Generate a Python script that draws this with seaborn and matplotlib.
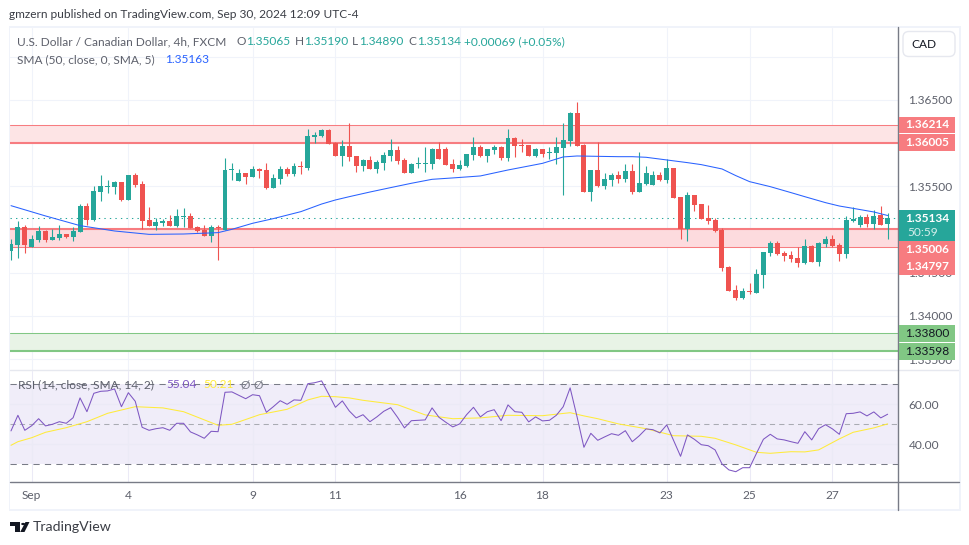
import numpy as np
import matplotlib.pyplot as plt
from matplotlib.lines import Line2D
from matplotlib.patches import Rectangle, FancyBboxPatch, Polygon, Circle
import seaborn as sns

#candles, 4h bars from the start of september
opens = [1.34753,1.34822,1.35030,1.34799,1.34880,1.34984,1.34880,1.34903,1.34949,1.34915,
         1.34973,1.35273,1.35111,1.35435,1.35493,1.35493,1.35551,1.35343,1.35632,1.35528,
         1.35111,1.35042,1.35077,1.35100,1.35042,1.35146,1.35158,1.35030,1.34996,1.34926,
         1.35030,1.34996,1.35690,1.35563,1.35655,1.35609,1.35702,1.35690,1.35482,1.35586,
         1.35702,1.35644,1.35736,1.35713,1.36072,1.36084,1.36153,1.36003,1.35852,1.35968,
         1.35852,1.35736,1.35806,1.35702,1.35771,1.35852,1.35922,1.35806,1.35655,1.35760,
         1.35760,1.35760,1.35933,1.35933,1.35760,1.35702,1.35736,1.35864,1.35956,1.35852,
         1.35922,1.35956,1.35829,1.36060,1.35979,1.35979,1.35852,1.35933,1.35887,1.35887,
         1.35945,1.36026,1.36350,1.35979,1.35435,1.35690,1.35505,1.35574,1.35632,1.35586,
         1.35679,1.35435,1.35528,1.35516,1.35632,1.35574,1.35713,1.35378,1.35007,1.35401,
         1.35296,1.35134,1.35111,1.34996,1.34567,1.34301,1.34209,1.34290,1.34266,1.34475,
         1.34729,1.34845,1.34729,1.34706,1.34672,1.34614,1.34810,1.34625,1.34834,1.34891,
         1.34822,1.34718,1.35100,1.35054,1.35146,1.35065,1.35169,1.35065]
highs = [1.34891,1.35100,1.35054,1.34938,1.35042,1.34996,1.35007,1.35054,1.34949,1.35030,
         1.35296,1.35308,1.35505,1.35632,1.35574,1.35563,1.35551,1.35632,1.35655,1.35563,
         1.35262,1.35134,1.35123,1.35169,1.35239,1.35250,1.35192,1.35042,1.35054,1.35054,
         1.35054,1.35829,1.35771,1.35702,1.35655,1.35736,1.35713,1.35771,1.35644,1.35736,
         1.35725,1.35771,1.35794,1.36165,1.36130,1.36165,1.36165,1.36014,1.36037,1.36234,
         1.35852,1.35817,1.35852,1.35806,1.35898,1.36049,1.35968,1.35829,1.35771,1.35841,
         1.35956,1.35945,1.36014,1.35956,1.35817,1.35806,1.35875,1.36072,1.35979,1.35933,
         1.35979,1.35968,1.36165,1.36072,1.36049,1.35979,1.35945,1.35933,1.35956,1.36072,
         1.36234,1.36361,1.36477,1.35991,1.35690,1.36014,1.35655,1.35655,1.35679,1.35760,
         1.35760,1.35898,1.35736,1.35679,1.35667,1.35817,1.35713,1.35378,1.35435,1.35401,
         1.35296,1.35285,1.35134,1.35019,1.34579,1.34359,1.34324,1.34382,1.34544,1.34741,
         1.34868,1.34868,1.34753,1.34753,1.34799,1.34891,1.34822,1.34857,1.34926,1.34938,
         1.34845,1.35158,1.35262,1.35169,1.35181,1.35227,1.35273,1.35190]
lows = [1.34648,1.34675,1.34733,1.34799,1.34857,1.34857,1.34880,1.34880,1.34903,1.34868,
        1.34973,1.35054,1.35100,1.35331,1.35424,1.35412,1.35331,1.35343,1.35493,1.35007,
        1.35042,1.34996,1.35042,1.35042,1.35030,1.35030,1.35019,1.34973,1.34926,1.34857,
        1.34648,1.34996,1.35574,1.35563,1.35528,1.35609,1.35598,1.35470,1.35482,1.35528,
        1.35621,1.35621,1.35644,1.35690,1.36003,1.36072,1.35991,1.35852,1.35736,1.35794,
        1.35667,1.35679,1.35702,1.35655,1.35690,1.35794,1.35760,1.35655,1.35655,1.35713,
        1.35667,1.35702,1.35817,1.35748,1.35667,1.35690,1.35725,1.35806,1.35841,1.35783,
        1.35875,1.35806,1.35794,1.35841,1.35898,1.35852,1.35841,1.35841,1.35817,1.35760,
        1.35401,1.35968,1.35968,1.35435,1.35331,1.35493,1.35470,1.35505,1.35540,1.35551,
        1.35412,1.35435,1.35516,1.35516,1.35563,1.35540,1.35366,1.34891,1.34868,1.35216,
        1.35123,1.35065,1.34973,1.34521,1.34290,1.34185,1.34197,1.34255,1.34266,1.34324,
        1.34695,1.34706,1.34637,1.34625,1.34567,1.34602,1.34625,1.34579,1.34799,1.34799,
        1.34637,1.34672,1.35088,1.35030,1.35030,1.35007,1.35054,1.34890]
closes = [1.34834,1.35030,1.34822,1.34891,1.34984,1.34880,1.34915,1.34949,1.34915,1.34984,
          1.35273,1.35111,1.35447,1.35505,1.35505,1.35551,1.35343,1.35632,1.35516,1.35100,
          1.35042,1.35088,1.35100,1.35042,1.35158,1.35158,1.35019,1.34984,1.34926,1.35030,
          1.35019,1.35690,1.35702,1.35655,1.35609,1.35702,1.35679,1.35482,1.35598,1.35702,
          1.35644,1.35736,1.35725,1.36084,1.36095,1.36153,1.35991,1.35852,1.35968,1.35841,
          1.35736,1.35806,1.35702,1.35783,1.35864,1.35922,1.35794,1.35655,1.35760,1.35771,
          1.35771,1.35933,1.35817,1.35748,1.35702,1.35748,1.35875,1.35956,1.35852,1.35933,
          1.35956,1.35829,1.36060,1.35968,1.35968,1.35852,1.35933,1.35875,1.35898,1.35956,
          1.36037,1.36350,1.35968,1.35435,1.35690,1.35505,1.35586,1.35632,1.35586,1.35679,
          1.35435,1.35540,1.35655,1.35632,1.35574,1.35713,1.35366,1.35007,1.35401,1.35285,
          1.35123,1.35100,1.34984,1.34556,1.34290,1.34209,1.34290,1.34278,1.34486,1.34741,
          1.34845,1.34718,1.34695,1.34660,1.34614,1.34810,1.34625,1.34845,1.34891,1.34810,
          1.34718,1.35111,1.35123,1.35146,1.35065,1.35158,1.35054,1.35134]

#50 SMA, read every few bars
sma_idx = [0,5,10,15,20,25,30,32,35,38,42,45,47,49,52,55,58,61,64,68,72,75,77,80,82,85,88,90,92,95,98,
           100,103,105,107,110,113,115,118,120,122,125,127]
sma_vals = [1.35277,1.35158,1.35046,1.34984,1.34945,1.34949,1.34965,1.35003,1.35073,1.35127,1.35208,
            1.35296,1.35343,1.35381,1.35435,1.35486,1.35536,1.35582,1.35598,1.35621,1.35690,1.35736,
            1.35767,1.35841,1.35852,1.35848,1.35844,1.35844,1.35837,1.35806,1.35775,1.35752,1.35702,
            1.35625,1.35555,1.35497,1.35428,1.35381,1.35312,1.35273,1.35246,1.35204,1.35163]

rsi_vals = [46.7,54.5,47.0,49.3,52.8,49.2,50.0,51.3,50.5,53.3,63.2,56.3,65.5,66.5,66.7,67.7,58.8,65.8,61.5,48.5,
            47.0,47.8,48.3,47.0,50.5,50.5,46.2,44.7,43.0,46.5,46.3,66.0,66.2,64.5,62.8,64.8,64.3,56.0,58.8,61.8,
            60.0,62.2,62.0,70.3,70.8,71.7,65.2,58.5,61.7,56.7,53.2,54.8,51.3,53.7,56.5,58.3,53.5,48.2,51.8,52.0,
            52.2,58.2,53.5,51.0,48.7,50.2,54.8,58.5,53.7,56.3,57.3,51.8,59.7,56.3,56.0,51.2,53.7,51.7,52.0,54.5,
            58.8,68.2,53.8,38.5,45.5,42.0,43.7,45.3,44.5,46.8,41.3,44.2,47.7,47.3,45.7,49.7,41.8,34.0,44.7,42.5,
            39.8,39.3,37.2,30.2,27.2,26.3,28.3,28.3,35.5,42.5,45.0,42.7,42.2,41.3,40.5,46.3,42.2,47.8,49.8,47.7,
            45.0,55.3,55.5,56.2,54.2,56.2,53.2,55.04]
rsi_ma_idx = [0,1,3,5,8,11,14,18,22,25,30,32,36,40,43,45,47,49,51,56,60,64,68,72,77,81,83,85,88,92,96,
              100,102,105,108,110,113,115,117,120,122,125,127]
rsi_ma_vals = [39.5,41.3,43.3,46.0,48.3,51.3,55.5,58.8,58.2,56.3,49.5,50.0,54.8,57.5,62.2,64.0,63.8,63.2,62.0,
               59.8,54.7,52.8,53.2,54.5,54.3,55.8,54.2,52.8,50.2,47.8,44.3,44.0,43.0,39.7,36.0,35.5,36.3,36.2,
               37.2,42.7,46.0,48.2,50.21]

price_ticks = [1.335,1.34,1.345,1.35,1.355,1.36,1.365,1.37]
price_ticklabels = ['1.33500','1.34000','1.34500','','1.35500','','1.36500','']
rsi_ticks = [40,60]
rsi_ticklabels = ['40.00','60.00']
date_pos = [3,17,35,47,65,77,95,107,119]
date_labels = ['Sep','4','9','11','16','18','23','25','27']

W, H = 970, 545
UP = '#26a69a'
DOWN = '#ef5350'
TXT = '#5d606b'
GRID = '#f0f3fa'
RED_L = '#f77c80'
GREEN_L = '#81c784'
THIN = 0.75
THICK = 1.5

sns.set_theme(style='white')
plt.rcParams['font.family'] = ['Lato', 'DejaVu Sans']
plt.rcParams['font.size'] = 8.6


def axrect(x0, y0, x1, y1):
    #pixel box (from the top left) to figure fractions
    return [x0 / W, 1 - y1 / H, (x1 - x0) / W, (y1 - y0) / H]


def ftext(x, y, s, color=TXT, size=8.6, **kw):
    kw.setdefault('va', 'center')
    return fig.text(x / W, 1 - y / H, s, color=color, fontsize=size, **kw)


def fbox(x0, y0, x1, y1, color, zorder=5):
    fig.add_artist(Rectangle((x0 / W, 1 - y1 / H), (x1 - x0) / W, (y1 - y0) / H,
                             transform=fig.transFigure, facecolor=color, edgecolor='none', zorder=zorder))


def fline(x0, y0, x1, y1, color, lw=THIN, zorder=4):
    fig.add_artist(Line2D([x0 / W, x1 / W], [1 - y0 / H, 1 - y1 / H], color=color, lw=lw, zorder=zorder))


fig = plt.figure(figsize=(W / 100, H / 100), dpi=100, facecolor='white')
ax = fig.add_axes(axrect(10, 28, 898, 370))
ax_rsi = fig.add_axes(axrect(10, 371, 898, 482), sharex=ax)

idx = np.arange(len(closes))
o = np.array(opens)
c = np.array(closes)
colors = [UP if c[i] >= o[i] else DOWN for i in idx]

#zones go under the candles
ax.axhspan(1.36005, 1.36214, facecolor='#fde4e5', edgecolor='none', zorder=1)
ax.axhspan(1.34797, 1.35006, facecolor='#fddbde', edgecolor='none', zorder=1)
ax.axhspan(1.33598, 1.33800, facecolor='#e8f3e6', edgecolor='none', zorder=1)
ax.axhline(1.36214, color=RED_L, lw=THIN, zorder=1.5)
ax.axhline(1.36005, color=RED_L, lw=THICK, zorder=1.5)
ax.axhline(1.35006, color=RED_L, lw=THICK, zorder=1.5)
ax.axhline(1.34797, color=RED_L, lw=THIN, zorder=1.5)
ax.axhline(1.33800, color=GREEN_L, lw=THIN, zorder=1.5)
ax.axhline(1.33598, color=GREEN_L, lw=THICK, zorder=1.5)

ax.vlines(idx, lows, highs, colors=colors, lw=0.8, zorder=3)
ax.bar(idx, np.abs(c - o), bottom=np.minimum(o, c), width=0.72, color=colors, zorder=3, linewidth=0)
sns.lineplot(x=sma_idx, y=sma_vals, ax=ax, color='#2962ff', lw=THIN, errorbar=None, zorder=4)
ax.axhline(closes[-1], color=UP, lw=THIN, ls=(0, (1.3, 4)), zorder=2)

ax.set_xlim(-0.145, 128.5)
ax.set_ylim(1.365 - (370 - 100) / 8640, 1.365 + (100 - 28) / 8640)
ax.set_yticks(price_ticks)
ax.set_yticklabels(price_ticklabels)
ax.yaxis.tick_right()
ax.tick_params(axis='y', length=0, pad=7.5, labelcolor=TXT, labelsize=8.6)
ax.tick_params(axis='x', length=0, labelbottom=False)
ax.set_xlabel('')
ax.set_ylabel('')
ax.grid(True, color=GRID, lw=THIN)
ax.set_axisbelow(True)
ax.set_xticks(date_pos)
for s in ax.spines.values():
    s.set_visible(False)

#rsi pane
ax_rsi.axhspan(30, 70, facecolor='#f0edf9', edgecolor='none', zorder=0.5)
ax_rsi.axhline(70, color='#787b86', lw=THIN, ls=(0, (6, 5)), zorder=2)
ax_rsi.axhline(50, color='#a9abb3', lw=THIN, ls=(0, (5, 4)), zorder=2)
ax_rsi.axhline(30, color='#787b86', lw=THIN, ls=(0, (6, 5)), zorder=2)
sns.lineplot(x=rsi_ma_idx, y=rsi_ma_vals, ax=ax_rsi, color='#ffeb3b', lw=THIN, errorbar=None, zorder=3)
sns.lineplot(x=idx, y=rsi_vals, ax=ax_rsi, color='#7e57c2', lw=THIN, errorbar=None, zorder=4)
ax_rsi.set_ylim(70 - (482 - 384.3) / 2, 70 + (384.3 - 371) / 2)
ax_rsi.set_yticks(rsi_ticks)
ax_rsi.set_yticklabels(rsi_ticklabels)
ax_rsi.yaxis.tick_right()
ax_rsi.tick_params(axis='y', length=0, pad=7.5, labelcolor=TXT, labelsize=8.6)
ax_rsi.set_xticks(date_pos)
ax_rsi.set_xticklabels(date_labels)
ax_rsi.tick_params(axis='x', length=0, pad=5.5, labelcolor=TXT, labelsize=8.6)
ax_rsi.set_xlabel('')
ax_rsi.set_ylabel('')
ax_rsi.grid(True, color='#ebeaf6', lw=THIN)
ax_rsi.set_axisbelow(True)
for s in ax_rsi.spines.values():
    s.set_visible(False)

#frame around the widget
fbox(9, 26, 961, 28, '#f0f3fa', zorder=3)
fbox(9, 509, 961, 511, '#f0f3fa', zorder=3)
fbox(9, 26, 10.5, 511, '#f0f3fa', zorder=3)
fbox(959, 26, 961, 511, '#f0f3fa', zorder=3)
fline(898.3, 27, 898.3, 510, '#787b86', lw=1.0)
fline(10, 482.4, 959, 482.4, '#787b86', lw=1.0)
fline(10, 370, 959, 370, '#e6e8ef', lw=1.0, zorder=2)

#price labels on the axis, text and centre pixel
for s, yc in [('1.36214', 125), ('1.36005', 142.6), ('1.35006', 249.6), ('1.34797', 266.4)]:
    fbox(899, yc - 8.2, 955, yc + 8.2, RED_L)
    ftext(927, yc, s, color='white', ha='center', zorder=6, fontweight='bold')
fbox(899, 210, 955, 241, UP)
ftext(927, 218.5, '1.35134', color='white', ha='center', zorder=6, fontweight='bold')
ftext(907, 233, '50:59', color='#d4eeeb', zorder=6)
for s, yc in [('1.33800', 333.6), ('1.33598', 351.4)]:
    fbox(899, yc - 8.4, 955, yc + 8.4, GREEN_L)
    ftext(927, yc, s, color='#131722', ha='center', zorder=6)

fig.add_artist(FancyBboxPatch((903 / W, 1 - 56.5 / H), 52 / W, 25 / H, transform=fig.transFigure,
                              boxstyle='round,pad=0,rounding_size=0.006', mutation_aspect=1.8,
                              facecolor='white', edgecolor='#e6e8ef', lw=1.0, zorder=5))
ftext(911, 44.5, 'CAD', color='#131722', zorder=6)

#header lines
ftext(9, 15, 'gmzern published on TradingView.com, Sep 30, 2024 12:09 UTC-4', color='#3a3d45')
ftext(17, 41.5, 'U.S. Dollar / Canadian Dollar, 4h, FXCM')
for x, s in [(237, 'O'), (295, 'H'), (352, 'L'), (408, 'C')]:
    ftext(x, 41.5, s)
for x, s in [(246, '1.35065'), (304, '1.35190'), (359, '1.34890'), (417, '1.35134'), (464, '+0.00069 (+0.05%)')]:
    ftext(x, 41.5, s, color=UP)
ftext(17, 59.5, 'SMA (50, close, 0, SMA, 5)')
ftext(165, 59.5, '1.35163', color='#2962ff')
ftext(18, 385, 'RSI (14, close, SMA, 14, 2)', zorder=6)
ftext(166, 385, '55.04', color='#7e57c2', zorder=6)
ftext(203, 385, '50.21', color='#ffeb3b', zorder=6)
ftext(241, 385, '\u00d8', color='#787b86', zorder=6)
ftext(254, 385, '\u00d8', color='#787b86', zorder=6)

#tradingview mark
k = '#131722'
fbox(10, 522, 20, 526, k)
fbox(15, 522, 20, 532, k)
fig.add_artist(Circle((23.2 / W, 1 - 524 / H), 0.0021, transform=fig.transFigure, facecolor=k, edgecolor='none'))
fig.add_artist(Polygon([(25.5 / W, 1 - 522 / H), (29.5 / W, 1 - 522 / H), (24.5 / W, 1 - 532 / H), (20.2 / W, 1 - 532 / H)],
                       closed=True, transform=fig.transFigure, facecolor=k, edgecolor='none'))
ftext(33, 527, 'TradingView', color='#3a3d45', size=10.2)

fig.savefig('out.png', dpi=100)
